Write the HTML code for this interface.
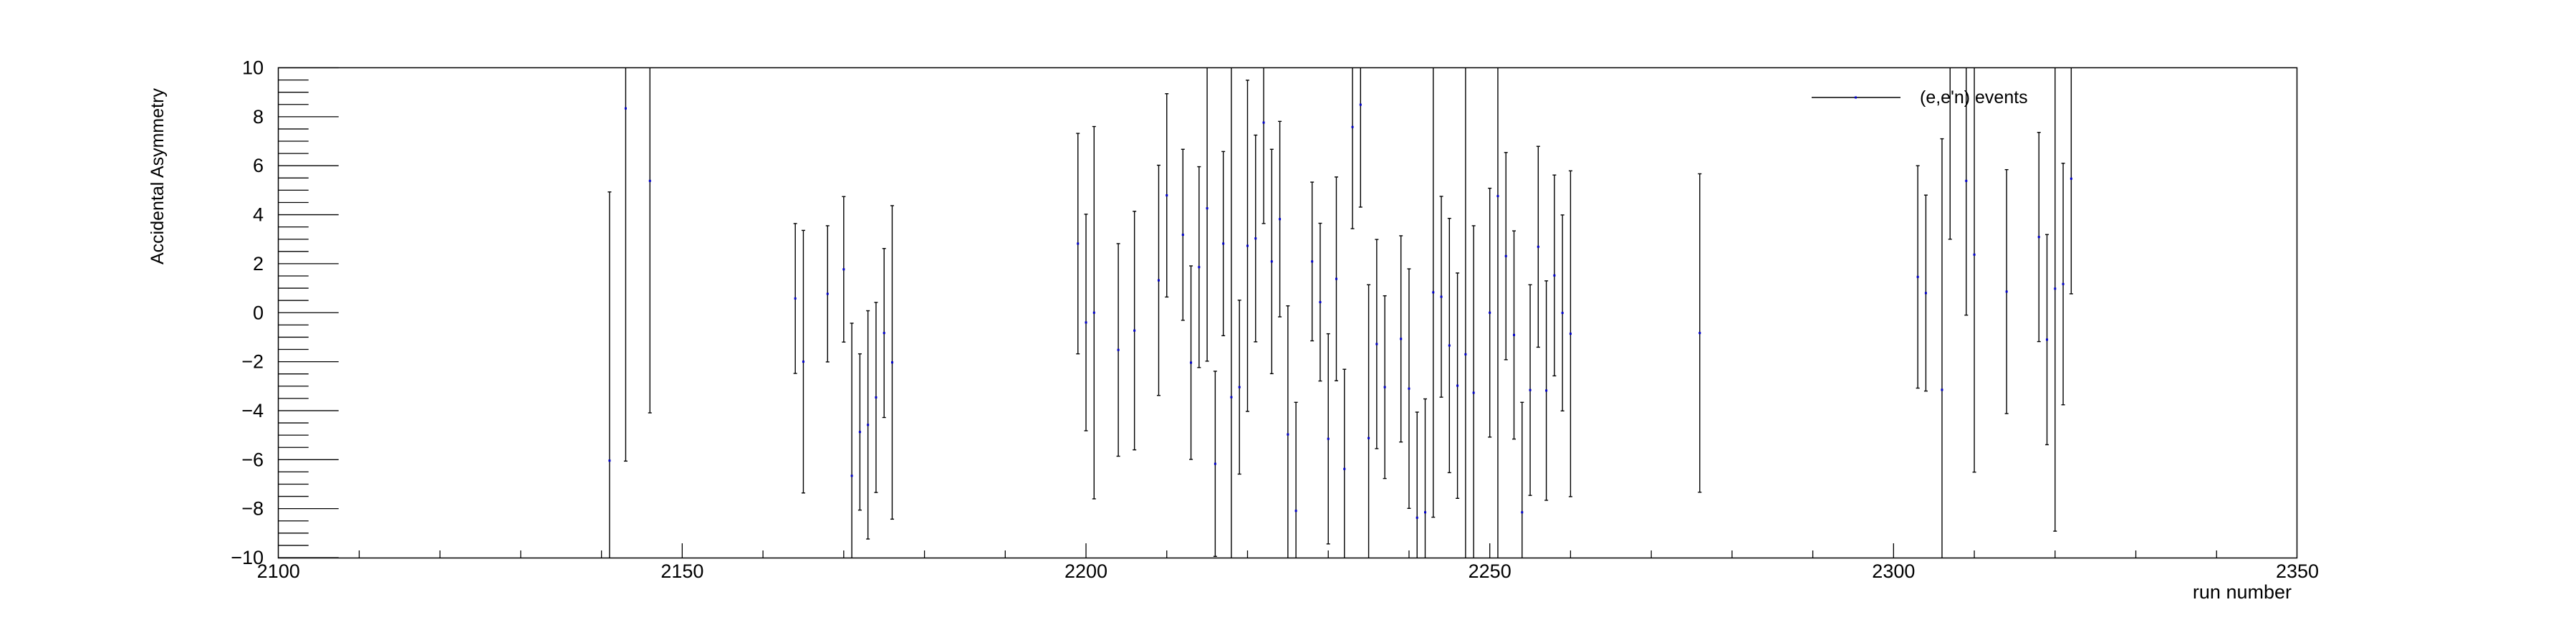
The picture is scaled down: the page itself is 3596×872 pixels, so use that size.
<!DOCTYPE html>
<html><head><meta charset="utf-8"><style>
html,body{margin:0;padding:0;background:#fff;}
svg{display:block;font-family:"Liberation Sans",sans-serif;}
</style></head><body>
<svg id="chart" width="3596" height="872" viewBox="0 0 3596 872" xmlns="http://www.w3.org/2000/svg">
<rect x="0" y="0" width="3596" height="872" fill="#fff"/>
<g id="ticks"></g>
<g id="points"></g>
<rect x="388.5" y="94.5" width="2818" height="684" fill="none" stroke="#000" stroke-width="1.5"/>
<text transform="translate(228,369) rotate(-90)" font-size="25" fill="#000">Accidental Asymmetry</text>
<text x="3199" y="835" font-size="27" text-anchor="end" fill="#000">run number</text>
<g>
<line x1="2529" y1="136" x2="2653" y2="136" stroke="#000" stroke-width="1.5"/>
<rect x="2589" y="134.5" width="3" height="3" fill="#0000cc"/>
<text x="2680" y="144" font-size="25" fill="#000">(e,e'n) events</text>
</g>
</svg>
<script>
const runs = [2141,2143,2146,2164,2165,2168,2170,2171,2172,2173,2174,2175,2176,
2199,2200,2201,2204,2206,2209,2210,2212,2213,2214,2215,2216,2217,2218,2219,2220,2221,2222,2223,2224,2225,2226,
2228,2229,2230,2231,2232,2233,2234,2235,2236,2237,2239,2240,2241,2242,2243,2244,2245,2246,2247,2248,2250,2251,
2252,2253,2254,2255,2256,2257,2258,2259,2260,2276,2303,2304,2306,2307,2309,2310,2314,2318,2319,2320,2321,2322];
const asym = [-6.04,8.34,5.38,0.58,-2.0,0.77,1.77,-6.66,-4.87,-4.58,-3.46,-0.83,-2.03,
2.82,-0.40,0.0,-1.52,-0.73,1.32,4.79,3.18,-2.04,1.86,4.26,-6.17,2.82,-3.45,-3.04,2.73,3.03,7.76,2.09,3.82,-4.97,-8.09,
2.09,0.43,-5.15,1.38,-6.38,7.58,8.49,-5.12,-1.28,-3.04,-1.07,-3.10,-8.37,-8.15,0.83,0.65,-1.34,-2.98,-1.70,-3.27,0.0,4.76,
2.31,-0.91,-8.15,-3.16,2.69,-3.18,1.52,-0.01,-0.86,-0.83,1.46,0.80,-3.15,12.0,5.38,2.37,0.86,3.09,-1.10,0.98,1.17,5.47];
const errs = [10.97,14.4,9.47,3.06,5.36,2.78,2.97,6.23,3.19,4.66,3.88,3.45,6.4,
4.5,4.42,7.6,4.34,4.87,4.7,4.15,3.49,3.95,4.1,6.24,3.78,3.76,14,3.55,6.76,4.22,4.12,4.58,3.99,5.25,4.43,
3.24,3.22,4.29,4.16,4.07,4.15,4.18,6.26,4.27,3.73,4.21,4.89,4.31,4.63,9.18,4.1,5.19,4.6,12,6.82,5.08,15,
4.23,4.25,4.49,4.3,4.1,4.48,4.1,4.0,6.65,6.5,4.54,4.0,10.25,9.0,5.48,8.88,4.98,4.27,4.29,9.9,4.93,4.7];
const xTickLabels = [2100,2150,2200,2250,2300,2350];
const yTickLabels = [-10,-8,-6,-4,-2,0,2,4,6,8,10];

const X0=388.7, X1=3207, Y0=778, Y1=94.5, XMIN=2100, XMAX=2350, YMIN=-10, YMAX=10;
function sx(v){return X0+(v-XMIN)/(XMAX-XMIN)*(X1-X0);}
function sy(v){return Y0-(v-YMIN)/(YMAX-YMIN)*(Y0-Y1);}
const NS="http://www.w3.org/2000/svg";
function mk(tag,attrs,parent){const e=document.createElementNS(NS,tag);for(const k in attrs)e.setAttribute(k,attrs[k]);parent.appendChild(e);return e;}
const tg=document.getElementById('ticks');
// y ticks
for(let i=0;i<=40;i++){
  const v=YMIN+i*0.5; const major=(i%4===0);
  if(v===YMIN||v===YMAX) { if(!major) continue; }
  const t=mk('line',{x1:X0,x2:X0+(major?84:42),y1:sy(v),y2:sy(v),stroke:'#000','stroke-width':1.3},tg);
  
  
}
yTickLabels.forEach(v=>{
  const t=mk('text',{x:368,y:sy(v)+9,'font-size':27,'text-anchor':'end',fill:'#000'},tg);
  t.textContent=(v<0?'\u2212'+(-v):String(v));
  
  
});
// x ticks
for(let v=XMIN+10; v<XMAX; v+=10){
  const major=(v%50===0);
  const t=mk('line',{x1:sx(v),x2:sx(v),y1:Y0,y2:Y0-(major?20:10),stroke:'#000','stroke-width':1.3},tg);
  
  
}
xTickLabels.forEach(v=>{
  const t=mk('text',{x:sx(v),y:806,'font-size':27,'text-anchor':'middle',fill:'#000'},tg);
  t.textContent=String(v);
  
  
});
// points with error bars
const pg=document.getElementById('points');
runs.forEach((r,i)=>{
  const x=sx(r), v=asym[i], e=errs[i];
  const top=Math.min(v+e,YMAX), bot=Math.max(v-e,YMIN);
  const g=mk('g',{},pg);
  
  
  if(bot<top) mk('line',{x1:x,x2:x,y1:sy(top),y2:sy(bot),stroke:'#000','stroke-width':1.4},g);
  if(v+e<YMAX && v+e>YMIN) mk('line',{x1:x-2.5,x2:x+2.5,y1:sy(v+e),y2:sy(v+e),stroke:'#000','stroke-width':1.4},g);
  if(v-e>YMIN && v-e<YMAX) mk('line',{x1:x-2.5,x2:x+2.5,y1:sy(v-e),y2:sy(v-e),stroke:'#000','stroke-width':1.4},g);
  if(v<=YMAX && v>=YMIN) mk('rect',{x:x-1.5,y:sy(v)-1.5,width:3,height:3,fill:'#0000cc'},g);
});
</script>
</body></html>
